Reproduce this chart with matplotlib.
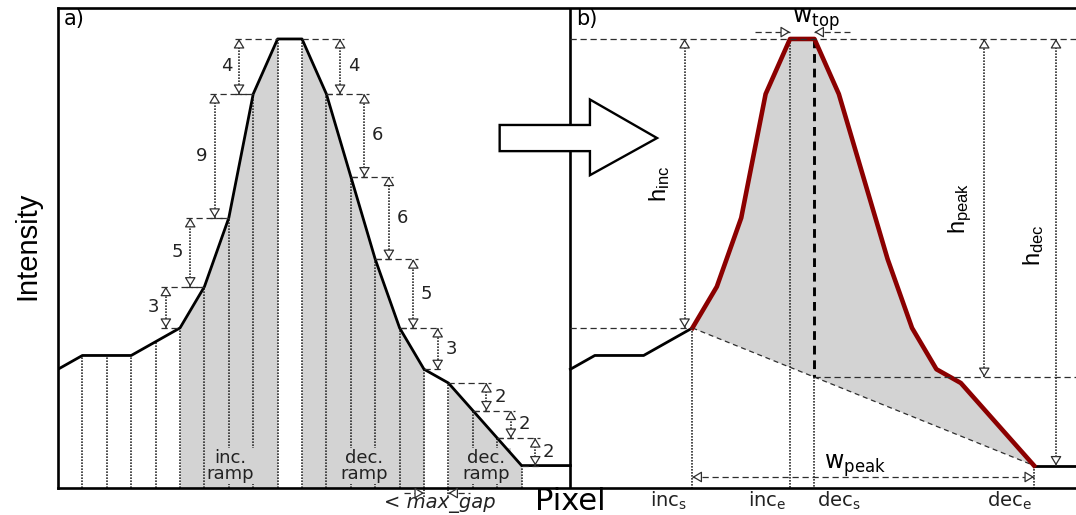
import numpy as np
import matplotlib.pyplot as plt
from matplotlib.patches import Polygon

plt.rcParams['font.family'] = 'DejaVu Sans'
plt.rcParams['mathtext.fontset'] = 'dejavusans'

# intensity profile along the pixel axis
pixel = np.arange(20)
intensity = np.array([7, 8, 8, 8, 9, 10, 13, 18, 27, 31, 31, 27, 21, 15, 10, 7, 6, 4, 2, 0])

# ramps of panel a: (first pixel, last pixel, label)
ramps = [(5, 9, 'inc.\nramp'), (10, 15, 'dec.\nramp'), (16, 19, 'dec.\nramp')]

# step sizes: (lower pixel, upper pixel, label)
inc_steps = [(5, 6, '3'), (6, 7, '5'), (7, 8, '9'), (8, 9, '4')]
dec_steps = [(11, 10, '4'), (12, 11, '6'), (13, 12, '6'), (14, 13, '5'),
             (15, 14, '3'), (17, 16, '2'), (18, 17, '2'), (19, 18, '2')]

# peak description in panel b
inc_s, inc_e, dec_s, dec_e = 5, 9, 10, 19
gap = (15, 16)
shift_b = 21

# hollow block arrow between the panels
block_x = [18.1, 21.8, 21.8, 24.55, 21.8, 21.8, 18.1]
block_y = [24.75, 24.75, 26.6, 23.8, 21.1, 22.85, 22.85]

GRAY = '#d3d3d3'
LINE = '#2e2e2e'
RED = '#8b0000'
DOT = (0, (1, 0.8))
DASH = (0, (5, 3))
XMAX, YMIN, YMAX = 41.72, -1.63, 33.25

fig = plt.figure(figsize=(10.76, 5.15), dpi=100)
ax = fig.add_axes([58 / 1076, 27 / 515, 1018 / 1076, 480 / 515])
ax.set_xlim(0, XMAX)
ax.set_ylim(YMIN, YMAX)
ax.set_xticks([])
ax.set_yticks([])
for s in ['top', 'left', 'bottom']:
    ax.spines[s].set_linewidth(1.9)
ax.spines['right'].set_visible(False)
ax.axvline(shift_b, color='k', lw=1.9, zorder=3)


def head(x, y, dx, dy):
    L = 5.6
    ax.annotate('', xy=(x, y), xytext=(-dx * L, -dy * L), textcoords='offset points',
                annotation_clip=False, zorder=6,
                arrowprops=dict(arrowstyle='-|>,head_length=0.4,head_width=0.24',
                                mutation_scale=14, fc='white', ec=LINE, lw=0.9,
                                shrinkA=0, shrinkB=0))


def v_arrow(x, lo, hi):
    ax.plot([x, x], [lo, hi], ls=DOT, color=LINE, lw=1.2, zorder=5)
    head(x, hi, 0, 1)
    head(x, lo, 0, -1)


def hline(x0, x1, y, **kw):
    ax.plot([x0, x1], [y, y], ls=DASH, color=LINE, lw=0.9, zorder=5, **kw)


# ---------------- panel a ----------------
for a, b, lab in ramps:
    ax.fill_between(pixel[a:b + 1], intensity[a:b + 1], YMIN, color=GRAY, lw=0, zorder=1)
    ax.text((pixel[a] + pixel[b]) / 2 + 0.05, -0.05, lab, ha='center', va='center',
            fontsize=13, linespacing=0.85, color='#222', zorder=3,
            bbox=dict(boxstyle='square,pad=0.05', fc=GRAY, ec='none'))

for i in pixel[1:]:
    low = -2.3 if i in gap else YMIN
    ax.plot([i, i], [low, intensity[i]], ls=DOT, color=LINE, lw=1.2, zorder=2, clip_on=False)

ax.plot(np.append(pixel, shift_b), np.append(intensity, 0), color='k', lw=2.0, zorder=4)

for lo, hi, lab in inc_steps:
    xa = pixel[lo] - 0.58
    hline(xa - 0.18, pixel[lo], intensity[lo])
    hline(xa - 0.18, pixel[hi], intensity[hi])
    v_arrow(xa, intensity[lo], intensity[hi])
    ax.text(xa - 0.52, (intensity[lo] + intensity[hi]) / 2, lab, ha='center', va='center',
            fontsize=13, color='#222')

for lo, hi, lab in dec_steps:
    xa = pixel[lo] + 0.56
    hline(pixel[lo], xa + 0.18, intensity[lo])
    hline(pixel[hi], xa + 0.18, intensity[hi])
    v_arrow(xa, intensity[lo], intensity[hi])
    ax.text(xa + 0.55, (intensity[lo] + intensity[hi]) / 2, lab, ha='center', va='center',
            fontsize=13, color='#222')

# max_gap marker below the axis
hline(gap[0] - 0.8, gap[0], -2.0, clip_on=False)
hline(gap[1], gap[1] + 0.9, -2.0, clip_on=False)
head(gap[0], -2.0, 1, 0)
head(gap[1], -2.0, -1, 0)
ax.text(15.63, -2.75, '< max_gap', ha='center', va='center', fontsize=14,
        style='italic', color='#222', clip_on=False)

ax.text(0.22, 32.45, 'a)', ha='left', va='center', fontsize=15)
ax.text(shift_b + 0.22, 32.45, 'b)', ha='left', va='center', fontsize=15)

# ---------------- panel b ----------------
xb = pixel + shift_b
peak = intensity[dec_s]
base_pk = np.interp(xb[dec_s], [xb[inc_s], xb[dec_e]], [intensity[inc_s], intensity[dec_e]])

ax.fill(xb[inc_s:dec_e + 1], intensity[inc_s:dec_e + 1], color=GRAY, lw=0, zorder=1)
ax.plot([xb[inc_s], xb[dec_e]], [intensity[inc_s], intensity[dec_e]],
        ls=(0, (4, 3)), color=LINE, lw=0.9, zorder=3)
ax.plot(xb[:inc_s + 1], intensity[:inc_s + 1], color='k', lw=2.0, zorder=4)
ax.plot([xb[dec_e], XMAX], [intensity[dec_e]] * 2, color='k', lw=2.0, zorder=4)
ax.plot(xb[inc_s:dec_e + 1], intensity[inc_s:dec_e + 1], color=RED, lw=3.3, zorder=5)

hline(shift_b, XMAX, peak)
hline(shift_b, xb[inc_s], intensity[inc_s])
hline(xb[dec_s], XMAX, base_pk)

ax.plot([xb[dec_s]] * 2, [peak, base_pk], ls=(0, (3, 2)), color='k', lw=2.1, zorder=4)
ax.plot([xb[dec_s]] * 2, [base_pk, YMIN], ls=DOT, color=LINE, lw=1.2, zorder=2)
ax.plot([xb[inc_e]] * 2, [peak, YMIN], ls=DOT, color=LINE, lw=1.2, zorder=2)
ax.plot([xb[inc_s]] * 2, [intensity[inc_s], YMIN], ls=DOT, color=LINE, lw=1.2, zorder=2)
ax.plot([xb[dec_e]] * 2, [intensity[dec_e], YMIN], ls=DOT, color=LINE, lw=1.2, zorder=2)

rot = dict(rotation=90, ha='center', va='center', fontsize=17,
           family=['Liberation Sans Narrow', 'Liberation Sans'])
h_inc_x = xb[inc_s] - 0.32
v_arrow(h_inc_x, intensity[inc_s], peak)
ax.text(h_inc_x - 1.03, (intensity[inc_s] + peak) / 2, r'$\mathregular{h_{inc}}$', **rot)
h_peak_x = xb[dec_e] - 2.04
v_arrow(h_peak_x, base_pk, peak)
ax.text(h_peak_x - 0.98, (base_pk + peak) / 2, r'$\mathregular{h_{peak}}$', **rot)
h_dec_x = xb[dec_e] + 0.9
v_arrow(h_dec_x, intensity[dec_e], peak)
ax.text(h_dec_x - 0.9, (intensity[dec_e] + peak) / 2 + 0.5, r'$\mathregular{h_{dec}}$', **rot)

# w_top
hline(xb[inc_e] - 1.45, xb[inc_e], 31.5, clip_on=False)
hline(xb[dec_s], xb[dec_s] + 1.45, 31.5, clip_on=False)
head(xb[inc_e], 31.5, 1, 0)
head(xb[dec_s], 31.5, -1, 0)
ax.text(xb[inc_e] + 0.1, 32.2, r'$\mathregular{w_{top}}$', ha='left', va='baseline', fontsize=17)

# w_peak
hline(xb[inc_s], xb[dec_e], -0.83)
head(xb[inc_s], -0.83, -1, 0)
head(xb[dec_e], -0.83, 1, 0)
ax.text(31.4, -0.25, r'$\mathregular{w_{peak}}$', ha='left', va='baseline', fontsize=17)

bot = dict(va='top', fontsize=14, color='#222')
ax.text(xb[inc_s] - 0.2, -1.72, r'$\mathregular{inc_{s}}$', ha='right', **bot)
ax.text(xb[inc_e] - 0.15, -1.72, r'$\mathregular{inc_{e}}$', ha='right', **bot)
ax.text(xb[dec_s] + 0.1, -1.72, r'$\mathregular{dec_{s}}$', ha='left', **bot)
ax.text(xb[dec_e] - 0.1, -1.72, r'$\mathregular{dec_{e}}$', ha='right', **bot)

ax.add_patch(Polygon(np.column_stack([block_x, block_y]), closed=True, fc='white',
                     ec='k', lw=1.7, zorder=7))

fig.text(27 / 1076, 1 - 246 / 515, 'Intensity', rotation=90, ha='center', va='center',
         fontsize=21, family=['Liberation Sans Narrow', 'Liberation Sans'])
fig.text(570 / 1076, 1 - 502 / 515, 'Pixel', ha='center', va='center', fontsize=22)

fig.savefig('out.png', dpi=100)
